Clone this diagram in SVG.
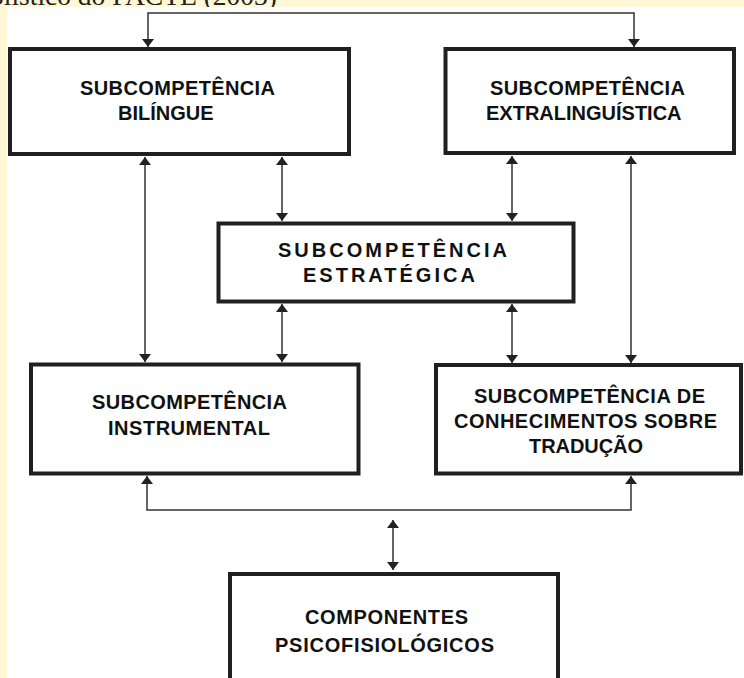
<svg xmlns="http://www.w3.org/2000/svg" width="744" height="678" viewBox="0 0 744 678">
<style>
.box{fill:#fff;stroke:#202020;stroke-width:4}
.t{font-family:"Liberation Sans",Arial,sans-serif;font-weight:bold;font-size:20px;fill:#111}
.ts{letter-spacing:3px}
.c{fill:none;stroke:#333;stroke-width:1.5}
</style>
<defs>
<marker id="a" markerUnits="userSpaceOnUse" markerWidth="10" markerHeight="14" viewBox="0 -7 8 14" refX="8" refY="0" orient="auto-start-reverse">
<path d="M0,-6 L8,0 L0,6 z" fill="#222"/>
</marker>
</defs>
<rect width="744" height="678" fill="#fff8d6"/>
<text x="277" y="5" text-anchor="end" font-family="Liberation Serif,serif" font-size="27.5" fill="#222">Modelo holístico do PACTE (2003)</text>
<rect x="7" y="7" width="737" height="671" fill="#fff"/>
<g id="connectors">
<path class="c" d="M148,47 V13 H634 V47" marker-start="url(#a)" marker-end="url(#a)"/>
<path class="c" d="M145,157 V362" marker-start="url(#a)" marker-end="url(#a)"/>
<path class="c" d="M282,157 V221" marker-start="url(#a)" marker-end="url(#a)"/>
<path class="c" d="M282,304 V362" marker-start="url(#a)" marker-end="url(#a)"/>
<path class="c" d="M512,156 V221" marker-start="url(#a)" marker-end="url(#a)"/>
<path class="c" d="M512,304 V363" marker-start="url(#a)" marker-end="url(#a)"/>
<path class="c" d="M631,156 V363" marker-start="url(#a)" marker-end="url(#a)"/>
<path class="c" d="M147,476 V510 H631 V476" marker-start="url(#a)" marker-end="url(#a)"/>
<path class="c" d="M393,520 V570" marker-start="url(#a)" marker-end="url(#a)"/>
</g>
<g id="bilingue">
<rect class="box" x="10" y="49" width="339" height="105"/>
<text class="t" x="80" y="95" textLength="195">SUBCOMPETÊNCIA</text>
<text class="t" x="118" y="120">BILÍNGUE</text>
</g>
<g id="extralinguistica">
<rect class="box" x="445.5" y="49" width="288.5" height="104"/>
<text class="t" x="490" y="95" textLength="195">SUBCOMPETÊNCIA</text>
<text class="t" x="486" y="120">EXTRALINGUÍSTICA</text>
</g>
<g id="estrategica">
<rect class="box" x="218.5" y="223.5" width="355" height="78"/>
<text class="t ts" x="278" y="257">SUBCOMPETÊNCIA</text>
<text class="t ts" x="303" y="282">ESTRATÉGICA</text>
</g>
<g id="instrumental">
<rect class="box" x="31" y="364.5" width="327.5" height="109"/>
<text class="t" x="92" y="409" textLength="195">SUBCOMPETÊNCIA</text>
<text class="t" x="108" y="435" textLength="162">INSTRUMENTAL</text>
</g>
<g id="conhecimentos">
<rect class="box" x="436" y="365" width="305" height="108.5"/>
<text class="t" x="474" y="403" textLength="231">SUBCOMPETÊNCIA DE</text>
<text class="t" x="454" y="428" textLength="263">CONHECIMENTOS SOBRE</text>
<text class="t" x="529" y="453" textLength="114">TRADUÇÃO</text>
</g>
<g id="componentes">
<rect class="box" x="230" y="574" width="328" height="120"/>
<text class="t" x="305" y="624" textLength="163">COMPONENTES</text>
<text class="t" x="275" y="652" textLength="219">PSICOFISIOLÓGICOS</text>
</g>
</svg>
